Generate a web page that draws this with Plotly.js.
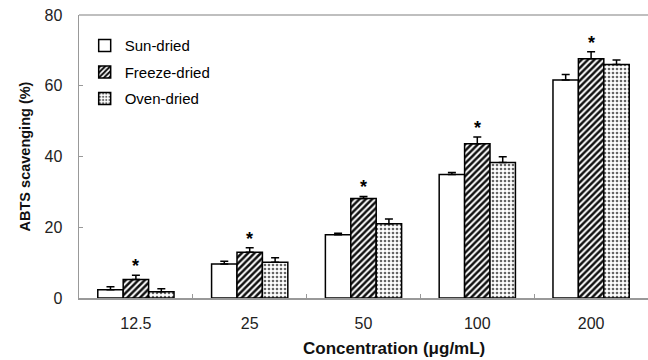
<!DOCTYPE html>
<html>
<head>
<meta charset="utf-8">
<script src="https://cdn.plot.ly/plotly-3.0.1.min.js"></script>
<style>html,body{margin:0;padding:0;background:#fff;}#chart{width:648px;height:360px;}</style>
</head>
<body>
<div id="chart"></div>
<script>
const categories = ["12.5", "25", "50", "100", "200"];
const sunDried = [2.3, 9.6, 17.9, 34.9, 61.6];
const sunErr = [0.9, 0.8, 0.4, 0.6, 1.6];
const freezeDried = [5.2, 12.9, 28.1, 43.6, 67.6];
const freezeErr = [1.2, 1.3, 0.6, 1.9, 2.0];
const ovenDried = [1.8, 10.1, 21.0, 38.3, 66.0];
const ovenErr = [0.8, 1.3, 1.3, 1.6, 1.3];
const starLabel = "*";
const xTitle = "<b>Concentration (μg/mL)</b>";
const yTitle = "<b>ABTS scavenging (%)</b>";

const fnt = "Liberation Sans, Arial, sans-serif";
const errStyle = (arr) => ({type: "data", array: arr, arrayminus: arr.map(() => 0), symmetric: false, visible: true, color: "#000", thickness: 1.5, width: 4});

const traces = [
  {type: "bar", name: "Sun-dried", legendgroup: "a", x: categories, y: sunDried, error_y: errStyle(sunErr),
   marker: {color: "#fff", line: {color: "#000", width: 1.5}}},
  {type: "bar", name: "Freeze-dried", legendgroup: "b", x: categories, y: freezeDried, error_y: errStyle(freezeErr),
   marker: {color: "#fff", line: {color: "#000", width: 1.5},
     pattern: {shape: "/", fgcolor: "#111", bgcolor: "#fff", size: 4.5, solidity: 0.55}}},
  {type: "bar", name: "Oven-dried", legendgroup: "c", x: categories, y: ovenDried, error_y: errStyle(ovenErr),
   marker: {color: "#fff", line: {color: "#000", width: 1.5},
     pattern: {shape: ".", fgcolor: "#666", bgcolor: "#fff", size: 4, solidity: 0.35}}}
];

const annotations = categories.map((c, i) => ({
  x: i, y: freezeDried[i] + freezeErr[i], xref: "x", yref: "y",
  text: "<b>" + starLabel + "</b>", showarrow: false, yanchor: "bottom", yshift: -3,
  font: {family: fnt, size: 18, color: "#000"}
}));
annotations.push({
  xref: "paper", yref: "paper", x: 0.554, y: 0, yshift: -50, xanchor: "center", yanchor: "middle",
  text: xTitle, showarrow: false, font: {family: fnt, size: 17, color: "#111"}
});

const layout = {
  width: 648, height: 360,
  margin: {l: 79, r: 0, t: 15, b: 62},
  paper_bgcolor: "#fff", plot_bgcolor: "#fff",
  barmode: "group", bargap: 0.33, bargroupgap: 0,
  font: {family: fnt, size: 14, color: "#222"},
  showlegend: true,
  legend: {x: 0.01, y: 0.95, xanchor: "left", yanchor: "top", bgcolor: "rgba(0,0,0,0)",
    font: {family: fnt, size: 15, color: "#000"}, itemwidth: 30, tracegroupgap: 4},
  xaxis: {type: "category", range: [-0.5, 4.5], autorange: false, showgrid: false, zeroline: false, showline: true, linecolor: "#999", linewidth: 1.5,
    ticks: "inside", tickson: "boundaries", ticklen: 4, tickcolor: "#999", ticklabelstandoff: 10,
    tickfont: {family: fnt, size: 16, color: "#222"}},
  yaxis: {range: [0, 80], autorange: false, dtick: 20, showgrid: false, zeroline: false, showline: true, linecolor: "#999", linewidth: 1.5,
    ticks: "inside", ticklen: 4, tickcolor: "#999", ticklabelstandoff: 12,
    tickfont: {family: fnt, size: 16, color: "#222"},
    title: {text: yTitle, font: {family: fnt, size: 14.5, color: "#111"}, standoff: 10}},
  shapes: [{type: "line", xref: "paper", yref: "paper", x0: 0, x1: 1, y0: 1, y1: 1, line: {color: "#aaa", width: 1.5}}],
  annotations: annotations
};

Plotly.newPlot("chart", traces, layout, {displayModeBar: false, staticPlot: true});
</script>
</body>
</html>
